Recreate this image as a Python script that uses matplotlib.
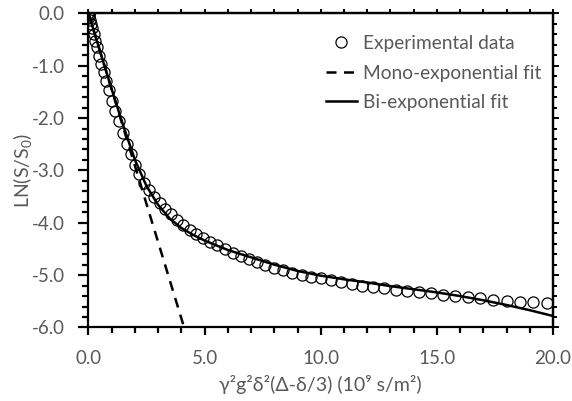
import matplotlib
matplotlib.use("Agg")
import matplotlib.pyplot as plt
from matplotlib.ticker import MultipleLocator, FormatStrFormatter

# ---- data ----
exp_x = [0.00, 0.005, 0.02, 0.04, 0.07, 0.11, 0.16, 0.22, 0.29, 0.37,
         0.45, 0.55, 0.65, 0.77, 0.89, 1.02, 1.16, 1.31, 1.47, 1.64,
         1.81, 2.00, 2.19, 2.40, 2.61, 2.83, 3.07, 3.31, 3.55, 3.81,
         4.08, 4.36, 4.64, 4.94, 5.24, 5.55, 5.88, 6.21, 6.55, 6.90,
         7.25, 7.62, 8.00, 8.38, 8.78, 9.18, 9.59, 10.02, 10.45, 10.89,
         11.34, 11.79, 12.26, 12.74, 13.22, 13.72, 14.22, 14.73, 15.25, 15.78,
         16.32, 16.87, 17.43, 18.00, 18.57, 19.16, 19.75]
exp_y = [0.00, -0.01, -0.03, -0.07, -0.13, -0.20, -0.29, -0.40, -0.52, -0.65,
         -0.81, -0.96, -1.12, -1.29, -1.47, -1.67, -1.86, -2.06, -2.29, -2.50,
         -2.69, -2.90, -3.06, -3.24, -3.38, -3.50, -3.63, -3.74, -3.84, -3.94,
         -4.04, -4.13, -4.22, -4.30, -4.36, -4.43, -4.50, -4.57, -4.64, -4.69,
         -4.75, -4.80, -4.86, -4.91, -4.95, -4.99, -5.03, -5.06, -5.10, -5.13,
         -5.17, -5.20, -5.23, -5.25, -5.28, -5.30, -5.33, -5.35, -5.37, -5.40,
         -5.42, -5.44, -5.47, -5.49, -5.51, -5.52, -5.54]

mono_x = [0.0, 4.20]
mono_y = [0.0, -6.12]

bi_x = [0.0, 0.5, 1.0, 1.5, 2.0, 2.5, 3.0, 3.5, 4.0, 4.5, 5.0, 6.0, 7.0, 8.0,
        9.0, 10.0, 11.0, 12.0, 13.0, 14.0, 15.0, 16.0, 17.0, 18.0, 19.0, 20.0]
bi_y = [0.0, -0.73, -1.45, -2.15, -2.80, -3.30, -3.66, -3.92, -4.10, -4.23,
        -4.34, -4.52, -4.66, -4.80, -4.92, -5.01, -5.08, -5.14, -5.21, -5.27,
        -5.33, -5.40, -5.48, -5.57, -5.67, -5.78]

labels = ["Experimental data", "Mono-exponential fit", "Bi-exponential fit"]
xlabel = "\u03b3\u00b2g\u00b2\u03b4\u00b2(\u0394-\u03b4/3) (10\u2079 s/m\u00b2)"
ylabel = "LN(S/S$_0$)"

# ---- style ----
FONT = ["Lato", "DejaVu Sans"]
plt.rcParams["font.family"] = FONT
plt.rcParams["mathtext.fontset"] = "custom"
plt.rcParams["mathtext.rm"] = "Lato"
plt.rcParams["mathtext.default"] = "rm"
GRAY = "#595959"
FS = 13.5

fig = plt.figure(figsize=(5.72, 4.01), dpi=100)
ax = fig.add_axes([0.1547, 0.1833, 0.8121, 0.7835])

ax.plot(exp_x, exp_y, linestyle="none", marker="o", markersize=8,
        markerfacecolor="none", markeredgecolor="black", markeredgewidth=0.9,
        label=labels[0], zorder=3)
ax.plot(mono_x, mono_y, color="black", linewidth=1.8, dashes=(4, 3),
        label=labels[1], zorder=4)
ax.plot(bi_x, bi_y, color="black", linewidth=1.8, label=labels[2], zorder=4)

ax.set_xlim(0, 20)
ax.set_ylim(-6, 0)

for s in ax.spines.values():
    s.set_linewidth(1.6)
    s.set_color("black")

ax.xaxis.set_major_locator(MultipleLocator(5))
ax.xaxis.set_minor_locator(MultipleLocator(1))
ax.yaxis.set_major_locator(MultipleLocator(1))
ax.yaxis.set_minor_locator(MultipleLocator(0.2))
ax.xaxis.set_major_formatter(FormatStrFormatter("%.1f"))
ax.yaxis.set_major_formatter(FormatStrFormatter("%.1f"))

ax.tick_params(axis="x", which="major", direction="out", length=6, width=1.6,
               pad=10, labelsize=FS, labelcolor=GRAY, color="black")
ax.tick_params(axis="x", which="minor", direction="out", length=4.5, width=1.6)
ax.tick_params(axis="y", which="major", direction="out", length=7, width=1.6,
               pad=10, labelsize=FS, labelcolor=GRAY, color="black")
ax.tick_params(axis="y", which="minor", direction="out", length=4.5, width=1.6)

sec_top = ax.secondary_xaxis("top")
sec_top.xaxis.set_major_locator(MultipleLocator(1))
sec_top.tick_params(direction="out", length=3, width=1.4, labeltop=False)
sec_top.spines["top"].set_linewidth(1.6)

sec_right = ax.secondary_yaxis("right")
sec_right.yaxis.set_major_locator(MultipleLocator(1))
sec_right.yaxis.set_minor_locator(MultipleLocator(0.2))
sec_right.tick_params(which="major", direction="out", length=4, width=1.4, labelright=False)
sec_right.tick_params(which="minor", direction="out", length=3, width=1.4)
sec_right.spines["right"].set_linewidth(1.6)

ax.set_xlabel(xlabel, fontsize=14, color=GRAY, labelpad=6)
ax.set_ylabel(ylabel, fontsize=14, color=GRAY, labelpad=-1.5)

leg = ax.legend(loc="upper left", bbox_to_anchor=(0.495, 0.955), frameon=False,
                fontsize=13.8, handlelength=1.6, handletextpad=0.35,
                labelspacing=0.65, borderaxespad=0)
for t in leg.get_texts():
    t.set_color(GRAY)

fig.savefig("out.png", dpi=100)
